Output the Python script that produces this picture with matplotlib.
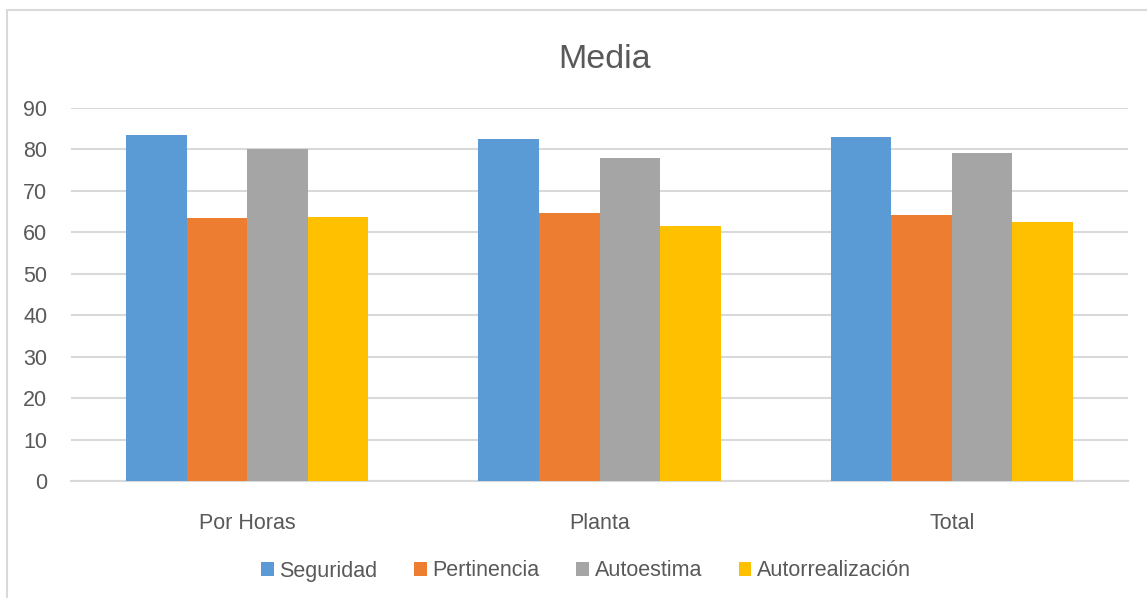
import numpy as np
import matplotlib.pyplot as plt
from matplotlib.patches import Rectangle

categories = ["Por Horas", "Planta", "Total"]
series = ["Seguridad", "Pertinencia", "Autoestima", "Autorrealización"]
seguridad = [83.6, 82.6, 83.1]
pertinencia = [63.4, 64.7, 64.1]
autoestima = [80.0, 78.0, 79.1]
autorrealizacion = [63.8, 61.6, 62.6]
yticks = [0, 10, 20, 30, 40, 50, 60, 70, 80, 90]

colors = ["#5B9BD5", "#ED7D31", "#A5A5A5", "#FFC000"]
txt = "#595959"
grid = "#D9D9D9"

plt.rcParams['font.family'] = ['Liberation Sans', 'DejaVu Sans']

fig = plt.figure(figsize=(11.47, 5.98), dpi=100)
W, H = 1147, 598
ax = fig.add_axes([71 / W, 1 - 481 / H, (1128 - 71) / W, (481 - 108) / H])

# marco del gráfico
fig.patches.append(Rectangle((6.5 / W, -0.1), 2.0, 1 - 9.5 / H + 0.1, transform=fig.transFigure,
                             fill=False, edgecolor=grid, linewidth=1.5))

x = np.arange(len(categories))
bw = 0.172
data = [seguridad, pertinencia, autoestima, autorrealizacion]
for k, (vals, name) in enumerate(zip(data, series)):
    ax.bar(x + (k - 1.5) * bw, vals, bw, color=colors[k], label=name, zorder=3)

ax.set_xlim(-0.5, 2.5)
ax.set_ylim(0, 90)
ax.set_yticks(yticks)
ax.yaxis.grid(True, color=grid, linewidth=1.5, zorder=0)
ax.set_axisbelow(True)
for s in ["top", "right", "left"]:
    ax.spines[s].set_visible(False)
ax.spines["bottom"].set_color(grid)
ax.spines["bottom"].set_linewidth(1.5)
ax.tick_params(axis="both", length=0, colors=txt, labelsize=15.5)
ax.tick_params(axis="y", pad=17)
ax.tick_params(axis="x", pad=23)
ax.set_xticks(x)
ax.set_xticklabels(categories)

fig.text(605 / W, 1 - 60 / H, "Media", ha="center", va="center", fontsize=24.5, color=txt)

leg = fig.legend(loc="center", bbox_to_anchor=(586 / W, 1 - 571 / H), ncol=4, frameon=False,
                 fontsize=15.5, handlelength=0.6, handleheight=0.6, handletextpad=0.25,
                 columnspacing=1.7, labelcolor=txt)

fig.savefig("out.png", dpi=100)
